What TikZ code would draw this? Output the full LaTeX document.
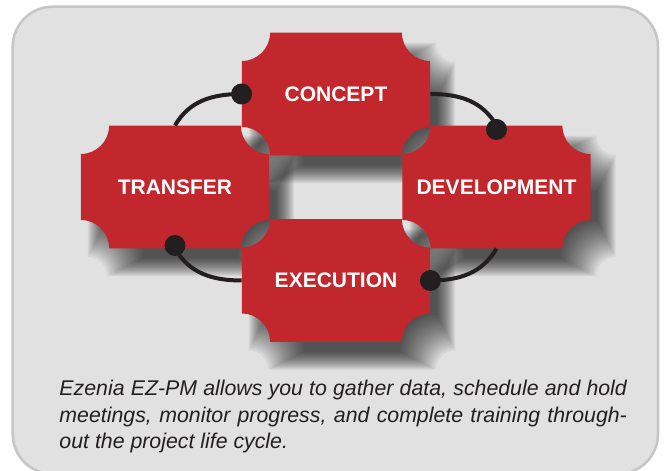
\documentclass[tikz,border=0pt]{standalone}
\usepackage{fontspec}
\setmainfont{Liberation Sans}

\definecolor{tilered}{HTML}{C1272D}
\definecolor{ink}{HTML}{231F20}
\definecolor{panelgray}{HTML}{E1E1E1}
\definecolor{paneledge}{HTML}{C6C6C6}

\tikzstyle{tile}=[
    rectangle,
    inner sep=0pt,
    minimum width=188.4pt,
    minimum height=122.6pt,
    text=white,
    font=\bfseries\fontsize{21}{25}\selectfont
]
\tikzstyle{link}=[
    line width=4pt,
    draw=ink
]
\tikzstyle{caption}=[
    inner sep=0pt,
    text width=567.4pt,
    align=justify,
    text=ink,
    font=\itshape\fontsize{21.3}{26.2}\selectfont
]

% tile with concave notches: centre x, centre y, half width, half height, notch radius
\newcommand{\tileoutline}[5]{%
  ({(#1)-(#3)+(#5)},{(#2)+(#4)}) -- ({(#1)+(#3)-(#5)},{(#2)+(#4)})
  arc[start angle=180, end angle=270, radius={#5}]
  -- ({(#1)+(#3)},{(#2)-(#4)+(#5)})
  arc[start angle=90, end angle=180, radius={#5}]
  -- ({(#1)-(#3)+(#5)},{(#2)-(#4)})
  arc[start angle=0, end angle=90, radius={#5}]
  -- ({(#1)-(#3)},{(#2)+(#4)-(#5)})
  arc[start angle=270, end angle=360, radius={#5}]
  -- cycle}
% soft drop shadow of a tile
\newcommand{\tileshadow}[2]{%
  \foreach \r in {9,8,...,-9}
    {\fill[black, opacity=0.047] \tileoutline{#1+16}{#2-19}{94.2+(\r)}{61.3+(\r)}{28.3-(\r)};}}

\begin{document}
\begin{tikzpicture}[x=1pt,y=1pt]
	\useasboundingbox (0,0) rectangle (665,471);
	\fill[white] (0,0) rectangle (665,471);
	\filldraw[fill=panelgray, draw=paneledge, line width=2.5pt, rounded corners=40pt]
		(12.7,-3) rectangle (658,464.3);

	% SHADOWS
	\tileshadow{336}{377}
	\tileshadow{175}{284}
	\tileshadow{496.5}{284}
	\tileshadow{336}{190.5}

	% TILES
	\fill[tilered] \tileoutline{336}{377}{94.2}{61.3}{28.3};
	\node (concept) [tile] at (336,377) {CONCEPT};
	\fill[tilered] \tileoutline{175}{284}{94.2}{61.3}{28.3};
	\node (transfer) [tile] at (175,284) {TRANSFER};
	\fill[tilered] \tileoutline{496.5}{284}{94.2}{61.3}{28.3};
	\node (development) [tile] at (496.5,284) {DEVELOPMENT};
	\fill[tilered] \tileoutline{336}{190.5}{94.2}{61.3}{28.3};
	\node (execution) [tile] at (336,190.5) {EXECUTION};

	\path
	% Connections from concept
	(concept.west) edge[link, out=180, in=60] (transfer.north)
	(concept.east) edge[link, out=0, in=120] (development.north)

	% Connections into execution
	(development.south) edge[link, out=-120, in=0] (execution.east)
	(execution.west) edge[link, out=180, in=-60] (transfer.south)
	;

	% Joints
	\fill[ink] (concept.west) circle (10.5);
	\fill[ink] ([yshift=-4pt]development.north) circle (10.5);
	\fill[ink] (execution.east) circle (10.5);
	\fill[ink] ([yshift=3pt]transfer.south) circle (10.5);

	\node (blurb) [caption, anchor=base west] at (59.3,75)
		{Ezenia EZ-PM allows you to gather data, schedule and hold\linebreak
		meetings, monitor progress, and complete training through-\linebreak
		out the project life cycle.};
\end{tikzpicture}
\end{document}
